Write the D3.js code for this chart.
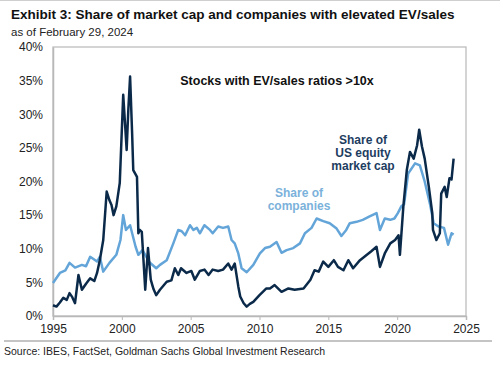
<!DOCTYPE html>
<html>
<head>
<meta charset="utf-8">
<script src="https://cdn.jsdelivr.net/npm/d3@7"></script>
<style>
  body { margin: 0; background: #fff; }
  text { font-family: "Liberation Sans", Arial, sans-serif; }
</style>
</head>
<body>
<div class="area"></div>
<script>
const width = 500
const height = 367
const margin = {top: 47, right: 34, bottom: 51, left: 53}
const darkColour = "#0b2a4a"
const lightColour = "#63a5d8"
const frameColour = "#b8b8b8"

// share of US equity market cap, % (decimal year)
const capYears = [1995.0, 1995.25, 1995.5, 1995.75, 1996.0, 1996.2, 1996.4, 1996.6, 1996.85, 1997.1,
  1997.4, 1997.7, 1998.0, 1998.2, 1998.4, 1998.65, 1998.9, 1999.1, 1999.25, 1999.4,
  1999.6, 1999.85, 2000.1, 2000.25, 2000.35, 2000.47, 2000.6, 2000.75, 2000.83, 2001.1,
  2001.2, 2001.3, 2001.45, 2001.7, 2001.9, 2002.1, 2002.3, 2002.5, 2002.77, 2003.26,
  2003.6, 2003.85, 2004.1, 2004.3, 2004.7, 2005.05, 2005.3, 2005.67, 2006.0, 2006.3,
  2006.6, 2007.0, 2007.35, 2007.73, 2007.97, 2008.2, 2008.46, 2008.6, 2008.85, 2009.07,
  2009.3, 2009.55, 2010.0, 2010.5, 2010.76, 2011.1, 2011.6, 2012.1, 2012.55, 2013.2,
  2013.7, 2014.0, 2014.3, 2014.63, 2015.0, 2015.4, 2015.7, 2016.1, 2016.45, 2016.8,
  2017.3, 2017.8, 2018.1, 2018.5, 2018.75, 2019.1, 2019.5, 2019.85, 2020.1, 2020.2,
  2020.45, 2020.7, 2020.93, 2021.2, 2021.45, 2021.6, 2021.8, 2022.0, 2022.3, 2022.55,
  2022.6, 2022.85, 2023.1, 2023.2, 2023.45, 2023.6, 2023.8, 2023.95, 2024.1]
const capValues = [1.6, 1.4, 2.0, 2.7, 2.4, 3.4, 2.8, 1.9, 6.1, 3.9,
  4.8, 5.6, 5.2, 6.4, 8.3, 11.3, 18.5, 17.2, 16.5, 15.0,
  16.3, 19.8, 32.9, 28.0, 24.7, 30.6, 35.6, 27.0, 21.7, 20.7,
  12.3, 12.8, 12.5, 3.9, 10.1, 5.4, 4.0, 3.1, 3.9, 5.1,
  5.3, 7.1, 6.1, 7.1, 6.4, 6.7, 5.4, 6.7, 6.9, 6.1,
  6.9, 6.7, 6.9, 7.8, 6.9, 7.8, 4.4, 2.9, 1.9, 1.4,
  1.8, 2.1, 3.1, 4.1, 4.1, 4.6, 3.6, 4.1, 3.9, 4.1,
  5.4, 6.8, 6.6, 8.1, 7.3, 8.3, 7.3, 6.8, 8.3, 7.1,
  8.3, 9.1, 9.6, 10.3, 7.3, 9.3, 10.8, 11.3, 12.0, 9.1,
  16.3, 21.7, 24.4, 23.4, 25.4, 27.7, 25.2, 23.4, 19.2, 15.3,
  12.8, 11.3, 12.3, 18.2, 19.2, 17.7, 20.5, 20.3, 23.4]

// share of companies, % (decimal year)
const coYears = [1995.0, 1995.5, 1995.9, 1996.2, 1996.6, 1997.1, 1997.4, 1997.7, 1998.2, 1998.4,
  1998.65, 1999.1, 1999.6, 1999.9, 2000.1, 2000.3, 2000.6, 2001.0, 2001.2, 2001.5,
  2002.0, 2002.5, 2002.77, 2003.26, 2003.74, 2004.1, 2004.35, 2004.6, 2004.95, 2005.2,
  2005.45, 2005.67, 2006.0, 2006.4, 2006.6, 2007.0, 2007.35, 2007.73, 2007.97, 2008.2,
  2008.46, 2008.7, 2009.07, 2009.55, 2010.03, 2010.4, 2010.76, 2011.24, 2011.6, 2011.97,
  2012.45, 2012.94, 2013.3, 2013.78, 2014.15, 2014.63, 2015.1, 2015.6, 2015.95, 2016.3,
  2016.56, 2017.05, 2017.5, 2018.0, 2018.5, 2018.75, 2019.1, 2019.5, 2019.8, 2020.05,
  2020.3, 2020.5, 2020.8, 2021.3, 2021.65, 2022.0, 2022.4, 2022.65, 2023.0, 2023.4,
  2023.7, 2023.95, 2024.1]
const coValues = [4.9, 6.4, 6.8, 7.9, 7.2, 7.6, 7.4, 8.8, 8.1, 8.8,
  6.6, 7.9, 9.1, 11.3, 15.0, 12.8, 13.5, 10.3, 9.1, 9.8,
  8.0, 7.1, 7.6, 8.3, 10.8, 12.8, 12.6, 12.0, 13.5, 12.8,
  13.1, 12.3, 13.5, 12.8, 12.3, 13.3, 13.1, 13.3, 11.3, 10.8,
  9.3, 7.1, 6.5, 7.6, 9.3, 10.1, 10.3, 11.0, 9.4, 9.8,
  10.1, 10.8, 12.3, 13.1, 14.5, 14.1, 13.8, 13.0, 11.9, 12.8,
  13.8, 14.0, 14.3, 14.8, 15.3, 12.8, 14.5, 14.3, 14.5, 15.3,
  16.3, 16.6, 21.2, 22.7, 22.4, 20.0, 16.5, 13.8, 13.3, 13.1,
  10.6, 12.3, 12.1]

const xTicks = [1995, 2000, 2005, 2010, 2015, 2020, 2025]
const yTicks = [0, 5, 10, 15, 20, 25, 30, 35, 40]

const capSeries = capYears.map((d, i) => [d, capValues[i]])
const coSeries = coYears.map((d, i) => [d, coValues[i]])

const svg = d3.select(".area")
  .append("svg")
  .attr("width", width)
  .attr("height", height)

// header
svg.append("line")
  .attr("x1", 0).attr("x2", width).attr("y1", 0.5).attr("y2", 0.5)
  .attr("stroke", "#cfcfcf")
svg.append("text")
  .attr("x", 11).attr("y", 19)
  .attr("font-size", 13.5).attr("font-weight", "bold").attr("fill", "#111")
  .text("Exhibit 3: Share of market cap and companies with elevated EV/sales")
svg.append("text")
  .attr("x", 11).attr("y", 36)
  .attr("font-size", 11.5).attr("fill", "#222")
  .text("as of February 29, 2024")

const innerW = width - margin.left - margin.right
const innerH = height - margin.top - margin.bottom

const g = svg.append("g")
  .attr("transform", `translate(${margin.left}, ${margin.top})`)

const x = d3.scaleLinear()
  .domain([1995, 2025])
  .range([0, innerW])

const y = d3.scaleLinear()
  .domain([0, 40])
  .range([innerH, 0])

// frame
g.append("rect")
  .attr("x", 0).attr("y", 0)
  .attr("width", innerW).attr("height", innerH)
  .attr("fill", "none").attr("stroke", frameColour).attr("stroke-width", 1.2)

const xAxis = g.append("g")
  .attr("transform", `translate(0, ${innerH})`)
  .call(d3.axisBottom(x).tickValues(xTicks).tickFormat(d3.format("d")).tickSize(4).tickPadding(4))
xAxis.select(".domain").attr("stroke", frameColour).attr("stroke-width", 1.5)
xAxis.selectAll(".tick line").attr("stroke", frameColour)
xAxis.selectAll("text").attr("font-size", 12).attr("fill", "#222")
  .attr("font-family", "Liberation Sans, Arial, sans-serif")

const yAxis = g.append("g")
  .call(d3.axisLeft(y).tickValues(yTicks).tickFormat(d => d + "%").tickSize(0).tickPadding(10))
yAxis.select(".domain").attr("stroke", frameColour).attr("stroke-width", 1.5)
yAxis.selectAll("text").attr("font-size", 12).attr("fill", "#222")
  .attr("font-family", "Liberation Sans, Arial, sans-serif")

const line = d3.line()
  .x(d => x(d[0]))
  .y(d => y(d[1]))

g.append("path")
  .datum(coSeries)
  .attr("fill", "none")
  .attr("stroke", lightColour)
  .attr("stroke-width", 2.5)
  .attr("stroke-linejoin", "round")
  .attr("d", line)

g.append("path")
  .datum(capSeries)
  .attr("fill", "none")
  .attr("stroke", darkColour)
  .attr("stroke-width", 2.5)
  .attr("stroke-linejoin", "round")
  .attr("d", line)

// annotations
svg.append("text")
  .attr("x", 277).attr("y", 85)
  .attr("text-anchor", "middle")
  .attr("font-size", 12.5).attr("font-weight", "bold").attr("fill", "#111")
  .text("Stocks with EV/sales ratios >10x")

const capLabel = svg.append("text")
  .attr("text-anchor", "middle")
  .attr("font-size", 12).attr("font-weight", "bold").attr("fill", "#1d3d5f")
;["Share of", "US equity", "market cap"].forEach((t, i) => {
  capLabel.append("tspan").attr("x", 363).attr("y", 144 + i * 13).text(t)
})

const coLabel = svg.append("text")
  .attr("text-anchor", "middle")
  .attr("font-size", 12).attr("font-weight", "bold").attr("fill", "#7bb2db")
;["Share of", "companies"].forEach((t, i) => {
  coLabel.append("tspan").attr("x", 299).attr("y", 197 + i * 13).text(t)
})

// footer
svg.append("line")
  .attr("x1", 4).attr("x2", 492).attr("y1", 341).attr("y2", 341)
  .attr("stroke", "#b0b0b0").attr("stroke-width", 1.5)
svg.append("text")
  .attr("x", 4).attr("y", 355)
  .attr("font-size", 10.5).attr("fill", "#222")
  .text("Source: IBES, FactSet, Goldman Sachs Global Investment Research")
</script>
</body>
</html>
